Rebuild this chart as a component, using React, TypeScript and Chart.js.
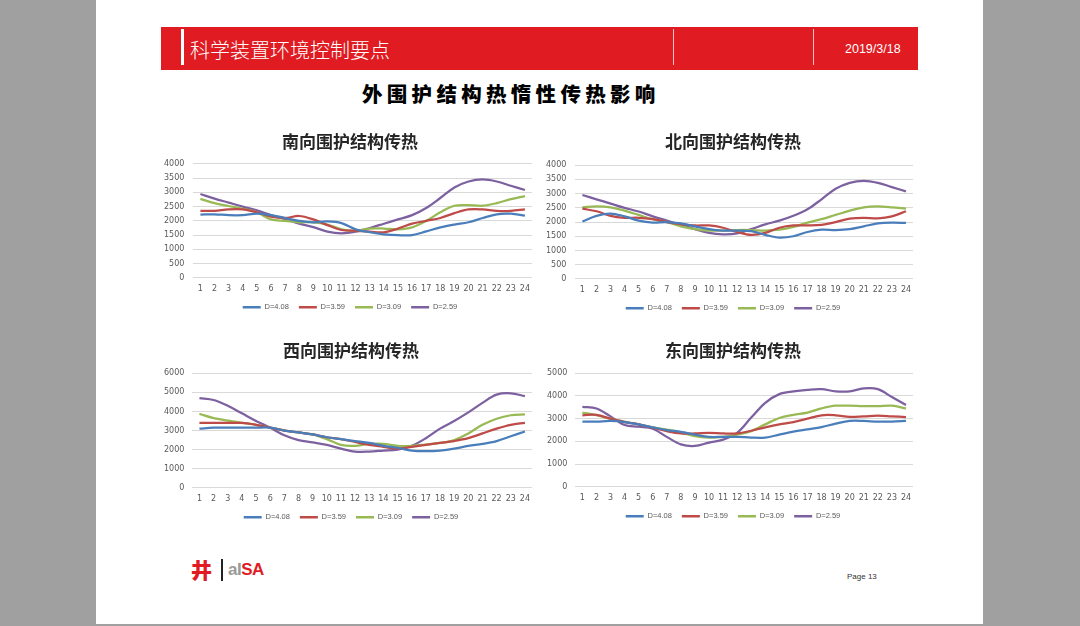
import React, { useEffect, useRef } from "react";
import { Chart, registerables } from "chart.js";
Chart.register(...registerables);

const hours = ["1","2","3","4","5","6","7","8","9","10","11","12","13","14","15","16","17","18","19","20","21","22","23","24"];
const seriesLabels = ["D=4.08", "D=3.59", "D=3.09", "D=2.59"];
const seriesColors = ["#4a7ebb", "#be4b48", "#98b954", "#7d60a0"];

// 南向
const southD408 = [2220,2230,2200,2200,2250,2200,2100,2000,1950,1980,1920,1700,1600,1530,1500,1500,1630,1770,1870,1950,2100,2230,2250,2180];
const southD359 = [2350,2350,2400,2400,2300,2150,2100,2170,2050,1850,1680,1650,1620,1600,1730,1900,2000,2100,2270,2400,2400,2350,2350,2400];
const southD309 = [2770,2620,2520,2420,2300,2050,2000,1950,1950,1870,1700,1650,1730,1730,1700,1770,2000,2300,2530,2550,2530,2620,2760,2870];
const southD259 = [2940,2780,2640,2500,2370,2200,2060,1900,1780,1620,1560,1620,1750,1900,2050,2200,2450,2800,3170,3380,3450,3380,3230,3080];

// 北向
const northD408 = [2020,2220,2300,2200,2050,1980,2000,1950,1850,1750,1700,1700,1680,1550,1450,1500,1650,1730,1720,1750,1850,1950,1980,1970];
const northD359 = [2470,2380,2220,2150,2150,2100,2000,1930,1880,1880,1800,1650,1550,1620,1800,1880,1880,1900,2000,2120,2150,2130,2200,2380];
const northD309 = [2520,2550,2520,2400,2250,2100,2000,1850,1750,1700,1700,1720,1720,1700,1730,1830,1980,2100,2250,2400,2520,2550,2520,2470];
const northD259 = [2950,2800,2650,2500,2370,2200,2050,1900,1750,1620,1570,1600,1750,1920,2050,2220,2450,2800,3170,3380,3450,3380,3230,3080];

// 西向
const westD408 = [3100,3150,3150,3150,3150,3150,3000,2900,2800,2650,2550,2450,2350,2200,2100,1950,1920,1950,2050,2200,2300,2450,2700,2950];
const westD359 = [3400,3400,3400,3400,3300,3150,3000,2900,2800,2650,2550,2400,2250,2150,2050,2150,2250,2350,2450,2600,2850,3100,3300,3400];
const westD309 = [3870,3650,3520,3400,3300,3150,3000,2900,2800,2550,2250,2200,2300,2300,2200,2200,2270,2350,2500,2850,3300,3620,3800,3850];
const westD259 = [4700,4600,4300,3900,3500,3150,2750,2500,2380,2250,2050,1900,1900,1950,2000,2200,2600,3100,3500,3950,4450,4880,4950,4800];

// 东向
const eastD408 = [2870,2870,2900,2850,2750,2620,2500,2420,2300,2200,2200,2200,2170,2170,2300,2430,2530,2630,2780,2900,2900,2870,2870,2900];
const eastD359 = [3150,3170,3000,2850,2750,2600,2450,2350,2350,2380,2350,2350,2470,2620,2750,2850,3000,3150,3150,3080,3100,3130,3100,3070];
const eastD309 = [3270,3150,3000,2870,2750,2620,2520,2400,2230,2170,2200,2300,2450,2750,3030,3170,3270,3450,3570,3570,3550,3550,3570,3450];
const eastD259 = [3520,3450,3100,2720,2650,2560,2200,1870,1800,1950,2080,2380,3050,3700,4080,4200,4270,4300,4200,4200,4330,4300,3950,3600];

const tickFont = { family: "'DejaVu Sans', sans-serif", size: 8 };
const legendFont = { family: "'Liberation Sans', Arial, sans-serif", size: 7.5 };

type Props = {
  title: string;
  series: number[][];
  yMax: number;
  step: number;
  left: number;
  top: number;
  width: number;
  height: number;
  padR: number;
  yPad: number;
  titleBottom: number;
};

function LineChart(p: Props) {
  const ref = useRef<HTMLCanvasElement>(null);
  useEffect(() => {
    const chart = new Chart(ref.current!, {
      type: "line",
      data: {
        labels: hours,
        datasets: p.series.map((d, i) => ({
          label: seriesLabels[i],
          data: d,
          borderColor: seriesColors[i],
          backgroundColor: seriesColors[i],
          borderWidth: 2.25,
          pointRadius: 0,
          tension: 0.35,
          fill: false,
          yAxisID: "y",
        })),
      },
      options: {
        responsive: false,
        animation: false,
        maintainAspectRatio: false,
        layout: { padding: 0 },
        plugins: {
          title: {
            display: true,
            text: p.title,
            color: "#262626",
            font: { family: "'Noto Sans CJK SC', sans-serif", size: 17, weight: "bold" },
            padding: { top: 5.4, bottom: p.titleBottom },
          },
          legend: {
            position: "bottom",
            labels: {
              boxWidth: 18,
              boxHeight: 2.5,
              color: "#595959",
              font: legendFont,
              padding: 10,
              generateLabels: (c: any) =>
                Chart.defaults.plugins.legend.labels.generateLabels(c).map((it: any) => ({ ...it, lineWidth: 0 })),
            },
          },
          tooltip: { enabled: false },
        },
        scales: {
          x: {
            offset: true,
            grid: { display: false, drawTicks: true, tickLength: 6 },
            border: { display: false },
            ticks: { color: "#595959", font: tickFont, padding: 0, autoSkip: false, maxRotation: 0 },
          },
          y: {
            position: "left",
            min: 0,
            max: p.yMax,
            grid: { color: "#d9d9d9", drawTicks: false, lineWidth: 1 },
            border: { display: false },
            ticks: {
              stepSize: p.step,
              color: "#595959",
              font: tickFont,
              padding: p.yPad,
              callback: (v: any) => String(v),
            },
          },
          // empty right-hand space of the plot frame (Excel chart area margin)
          ySpace: {
            position: "right",
            grid: { display: false, drawTicks: false },
            border: { display: false },
            ticks: { display: false },
            afterFit: (s: any) => {
              s.width = p.padR;
            },
          },
        },
      },
    });
    return () => chart.destroy();
  }, []);
  return (
    <canvas
      ref={ref}
      width={p.width}
      height={p.height}
      style={{ position: "absolute", left: p.left, top: p.top, width: p.width, height: p.height }}
    />
  );
}

export default function App() {
  return (
    <div style={{ position: "fixed", left: 0, top: 0, width: 1080, height: 626, background: "#a0a0a0", overflow: "hidden" }}>
      <div style={{ position: "absolute", left: 96, top: 0, width: 887, height: 624, background: "#ffffff" }} />
      {/* header bar */}
      <div style={{ position: "absolute", left: 161, top: 27, width: 757, height: 43, background: "#e01b22" }} />
      <div style={{ position: "absolute", left: 181, top: 29, width: 3, height: 36, background: "#ffffff" }} />
      <div style={{ position: "absolute", left: 673, top: 29, width: 1, height: 36, background: "#f4c0c0" }} />
      <div style={{ position: "absolute", left: 813, top: 29, width: 1, height: 36, background: "#f4c0c0" }} />
      <div style={{ position: "absolute", left: 190, top: 37, color: "#ffffff", fontFamily: "'Noto Sans CJK SC', sans-serif", fontSize: 20, fontWeight: 300, lineHeight: "26px", whiteSpace: "nowrap" }}>科学装置环境控制要点</div>
      <div style={{ position: "absolute", left: 845, top: 41, color: "#ffffff", fontFamily: "'Liberation Sans', Arial, sans-serif", fontSize: 12.5, lineHeight: "16px", whiteSpace: "nowrap" }}>2019/3/18</div>
      {/* main title */}
      <div style={{ position: "absolute", left: 362, top: 79, color: "#000000", fontFamily: "'Noto Sans CJK SC', sans-serif", fontSize: 20.5, fontWeight: 900, letterSpacing: 4.3, lineHeight: "28px", whiteSpace: "nowrap" }}>外围护结构热惰性传热影响</div>

      <LineChart title="南向围护结构传热" series={[southD408, southD359, southD309, southD259]} yMax={4000} step={500}
        left={155} top={126} width={390} height={195} padR={13} yPad={9} titleBottom={12} />
      <LineChart title="北向围护结构传热" series={[northD408, northD359, northD309, northD259]} yMax={4000} step={500}
        left={537} top={126} width={392} height={196} padR={16} yPad={9} titleBottom={13.4} />
      <LineChart title="西向围护结构传热" series={[westD408, westD359, westD309, westD259]} yMax={6000} step={1000}
        left={156} top={335} width={390} height={196} padR={14} yPad={8} titleBottom={12.4} />
      <LineChart title="东向围护结构传热" series={[eastD408, eastD359, eastD309, eastD259]} yMax={5000} step={1000}
        left={539} top={335} width={388} height={195} padR={14} yPad={8} titleBottom={12.4} />

      {/* footer */}
      <div style={{ position: "absolute", left: 191, top: 556, color: "#e01b22", fontFamily: "'Noto Sans CJK SC', sans-serif", fontSize: 21, fontWeight: 900, lineHeight: "26px" }}>井</div>
      <div style={{ position: "absolute", left: 221, top: 559, width: 1.5, height: 22, background: "#222" }} />
      <div style={{ position: "absolute", left: 228, top: 559, fontFamily: "'Liberation Sans', Arial, sans-serif", fontSize: 17, fontWeight: 700, lineHeight: "22px", letterSpacing: -0.5, whiteSpace: "nowrap" }}>
        <span style={{ color: "#9a9a9a" }}>aI</span><span style={{ color: "#e01b22" }}>SA</span>
      </div>
      <div style={{ position: "absolute", left: 847, top: 571, color: "#333", fontFamily: "'Liberation Sans', Arial, sans-serif", fontSize: 8, lineHeight: "12px", whiteSpace: "nowrap" }}>Page 13</div>
    </div>
  );
}
